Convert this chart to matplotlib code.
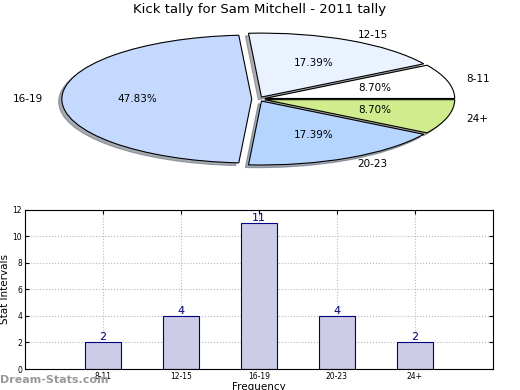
import matplotlib
matplotlib.use("Agg")
import matplotlib.pyplot as plt

# data
labels = ["8-11", "12-15", "16-19", "20-23", "24+"]
counts = [2, 4, 11, 4, 2]
pie_colors = ["#ffffff", "#eaf1ff", "#c5d9ff", "#b5d5ff", "#d0ec8c"]
explode = [0.035, 0.035, 0.035, 0.035, 0.035]

fig = plt.figure(figsize=(5.2, 3.9), dpi=100)

# pie on top
ax1 = fig.add_axes([0.0404, 0.541, 0.913, 0.41])
wedges, texts, autotexts = ax1.pie(counts, labels=labels, colors=pie_colors,
                                   explode=explode, autopct="%1.2f%%",
                                   shadow={"ox": -0.012, "oy": -0.03, "shade": 0.6},
                                   startangle=0,
                                   textprops={"fontsize": 7.5},
                                   wedgeprops={"linewidth": 0.8, "edgecolor": "black"})
ax1.set_aspect("auto")
ax1.set_xlim(-1.25, 1.25)
ax1.set_ylim(-1.25, 1.25)
fig.text(0.5, 0.975, "Kick tally for Sam Mitchell - 2011 tally",
         ha="center", va="center", fontsize=9.5)

# bars below
ax2 = fig.add_axes([0.048, 0.0538, 0.9, 0.408])
xs = list(range(1, len(labels) + 1))
bars = ax2.bar(xs, counts, width=0.46, color="#cccce6", edgecolor="#000080",
               linewidth=0.8, zorder=2)
for x, c in zip(xs, counts):
    ax2.text(x, c, str(c), ha="center", va="bottom", color="#000080",
             fontsize=8, zorder=3)
ax2.set_xlim(0, 6)
ax2.set_ylim(0, 12)
ax2.set_xticks(xs)
ax2.set_xticklabels(labels)
ax2.set_yticks(range(0, 13, 2))
ax2.tick_params(labelsize=5.5, direction="in", length=3, top=True, right=True, pad=2)
ax2.grid(True, linestyle=":", color="#b8b8b8", linewidth=0.8, zorder=0)
ax2.set_ylabel("Stat Intervals", fontsize=7.5)
ax2.yaxis.set_label_coords(-0.031, 0.5)
ax2.set_xlabel("Frequency", fontsize=7.5, labelpad=1)

fig.text(0.0, 0.025, "Dream-Stats.com", ha="left", va="center",
         fontsize=8, fontweight="bold", color="#999999")

fig.savefig("out.png", dpi=100)
